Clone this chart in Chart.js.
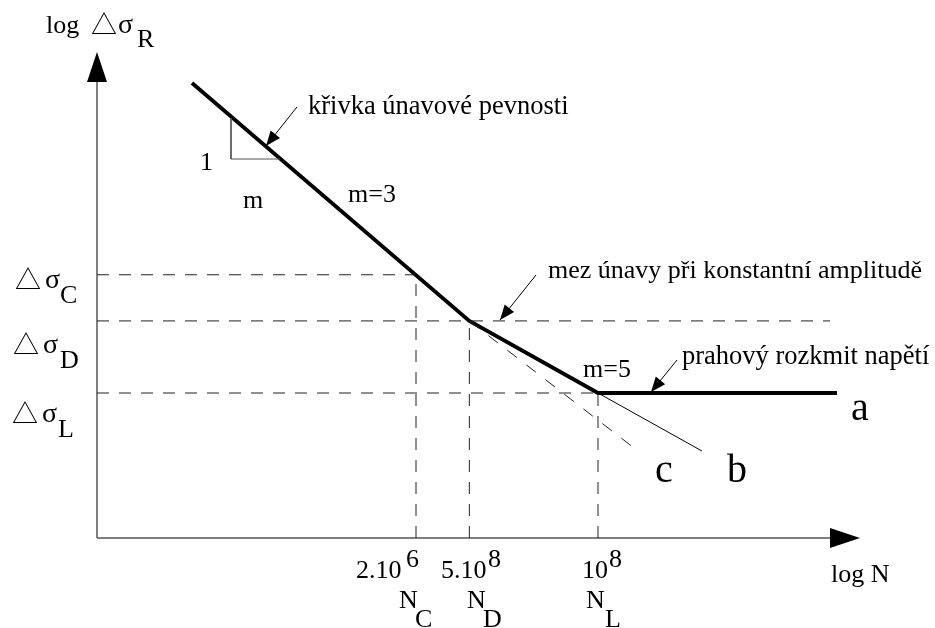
<!DOCTYPE html>
<html>
<head>
<meta charset="utf-8">
<script src="https://cdn.jsdelivr.net/npm/chart.js@4.4.1/dist/chart.umd.min.js"></script>
<style>
  html, body { margin: 0; padding: 0; background: #fff; }
  canvas { display: block; }
</style>
</head>
<body>
<canvas id="snChart" width="935" height="628"></canvas>
<script>
// schematic S-N curve, x = log N, y = log delta sigma (arbitrary units)
const curveX = [1.245, 4.88, 6.566, 9.698];
const curveY = [5.617, 2.68, 1.79, 1.79];

const levelNames = ["C", "D", "L"];
const levelY = [3.25, 2.68, 1.79];
const levelNx = [4.181, 4.88, 6.566];
const levelDashEnd = [4.181, 9.607, 6.566];

const lineBX = [6.566, 7.929];
const lineBY = [1.79, 1.074];
const lineCX = [4.88, 7.09];
const lineCY = [2.68, 1.074];

const slopeTriX = [1.756, 1.756, 2.398];
const slopeTriY = [5.185, 4.679, 4.679];

// leader arrows [fromX, fromY, toX, toY]
const leaders = [
  [2.621, 5.321, 2.215, 4.84],
  [5.754, 3.247, 5.282, 2.691],
  [7.602, 2.198, 7.261, 1.802],
];

const serif = '"Liberation Serif", "Times New Roman", serif';
const sym = '"Noto Sans CJK SC", "DejaVu Sans", sans-serif';

// text: [text, x, baseline, size, font]
const notes = [
  ["log", 46, 33, 26, serif], ["△", 91, 34, 26, sym], ["σ", 118, 33, 28, serif], ["R", 137, 47, 26, serif],
  ["△", 15, 289, 26, sym], ["σ", 45, 288, 28, serif], ["C", 60, 303, 26, serif],
  ["△", 13, 354, 26, sym], ["σ", 43, 353, 28, serif], ["D", 60, 368, 26, serif],
  ["△", 12, 423, 26, sym], ["σ", 42, 422, 28, serif], ["L", 58, 437, 26, serif],
  ["2.10", 356, 578, 26, serif], ["6", 406, 567, 26, serif],
  ["5.10", 441, 578, 26, serif], ["8", 488, 567, 26, serif],
  ["10", 582, 578, 26, serif], ["8", 609, 567, 26, serif],
  ["N", 399, 608, 26, serif], ["C", 415, 627, 26, serif],
  ["N", 467, 608, 26, serif], ["D", 483, 627, 26, serif],
  ["N", 586, 608, 26, serif], ["L", 605, 627, 26, serif],
  ["log N", 831, 582, 26, serif],
  ["křivka únavové pevnosti", 308, 114, 26.5, serif],
  ["mez únavy při konstantní amplitudě", 548, 278, 26, serif],
  ["prahový rozkmit napětí", 682, 364, 26.5, serif],
  ["1", 200, 170, 26, serif],
  ["m", 243, 208, 26, serif],
  ["m=3", 348, 202, 26, serif],
  ["m=5", 583, 377, 26, serif],
  ["a", 851, 420, 40, serif],
  ["b", 727, 482, 40, serif],
  ["c", 655, 482, 40, serif],
];

function pts(xs, ys) {
  return xs.map((x, i) => ({ x: x, y: ys[i] }));
}

const datasets = [];
levelNames.forEach((name, i) => {
  datasets.push({
    label: "sigma " + name,
    data: pts([0, levelDashEnd[i]], [levelY[i], levelY[i]]),
    borderColor: "#222", borderWidth: 1, borderDash: [12, 10],
  });
  datasets.push({
    label: "N " + name,
    data: pts([levelNx[i], levelNx[i]], [0, levelY[i]]),
    borderColor: "#222", borderWidth: 1, borderDash: [12, 10],
  });
});
datasets.push({
  label: "c", data: pts(lineCX, lineCY),
  borderColor: "#222", borderWidth: 1, borderDash: [12, 12],
});
datasets.push({
  label: "b", data: pts(lineBX, lineBY),
  borderColor: "#000", borderWidth: 1,
});
datasets.push({
  label: "slope", data: pts(slopeTriX, slopeTriY),
  borderColor: "#555", borderWidth: 1,
});
datasets.push({
  label: "curve", data: pts(curveX, curveY),
  borderColor: "#000", borderWidth: 3.8,
});
datasets.forEach((d) => {
  d.showLine = true;
  d.pointRadius = 0;
  d.tension = 0;
  d.fill = false;
  d.clip = false;
});

function arrowHead(ctx, x1, y1, x2, y2, len, half) {
  const a = Math.atan2(y2 - y1, x2 - x1);
  ctx.beginPath();
  ctx.moveTo(x2, y2);
  ctx.lineTo(x2 - len * Math.cos(a) + half * Math.sin(a), y2 - len * Math.sin(a) - half * Math.cos(a));
  ctx.lineTo(x2 - len * Math.cos(a) - half * Math.sin(a), y2 - len * Math.sin(a) + half * Math.cos(a));
  ctx.closePath();
  ctx.fill();
}

const overlay = {
  id: "overlay",
  beforeDatasetsDraw(chart) {
    const ctx = chart.ctx;
    const sx = chart.scales.x, sy = chart.scales.y;
    const ox = sx.getPixelForValue(0), oy = sy.getPixelForValue(0);
    const tx = sx.getPixelForValue(10), ty = sy.getPixelForValue(6);
    ctx.save();
    ctx.strokeStyle = "#555";
    ctx.lineWidth = 1.5;
    ctx.beginPath();
    ctx.moveTo(ox, oy); ctx.lineTo(tx - 25, oy);
    ctx.moveTo(ox, oy); ctx.lineTo(ox, ty + 25);
    ctx.stroke();
    ctx.fillStyle = "#000";
    arrowHead(ctx, ox, oy, tx, oy, 30, 10);
    arrowHead(ctx, ox, oy, ox, ty, 30, 10);
    ctx.restore();
  },
  afterDatasetsDraw(chart) {
    const ctx = chart.ctx;
    const sx = chart.scales.x, sy = chart.scales.y;
    ctx.save();
    ctx.strokeStyle = "#000";
    ctx.fillStyle = "#000";
    ctx.lineWidth = 1;
    leaders.forEach((l) => {
      const x1 = sx.getPixelForValue(l[0]), y1 = sy.getPixelForValue(l[1]);
      const x2 = sx.getPixelForValue(l[2]), y2 = sy.getPixelForValue(l[3]);
      ctx.beginPath();
      ctx.moveTo(x1, y1); ctx.lineTo(x2, y2);
      ctx.stroke();
      arrowHead(ctx, x1, y1, x2, y2, 15, 6);
    });
    ctx.textBaseline = "alphabetic";
    ctx.textAlign = "left";
    notes.forEach((n) => {
      ctx.font = n[3] + "px " + n[4];
      ctx.fillText(n[0], n[1], n[2]);
    });
    ctx.restore();
  },
};

new Chart(document.getElementById("snChart"), {
  type: "scatter",
  data: { datasets: datasets },
  options: {
    responsive: false,
    animation: false,
    devicePixelRatio: 1,
    layout: { padding: { left: 97, right: 75, top: 52, bottom: 90 } },
    scales: {
      x: { type: "linear", min: 0, max: 10, display: false },
      y: { type: "linear", min: 0, max: 6, display: false },
    },
    plugins: { legend: { display: false }, tooltip: { enabled: false } },
  },
  plugins: [overlay],
});
</script>
</body>
</html>
